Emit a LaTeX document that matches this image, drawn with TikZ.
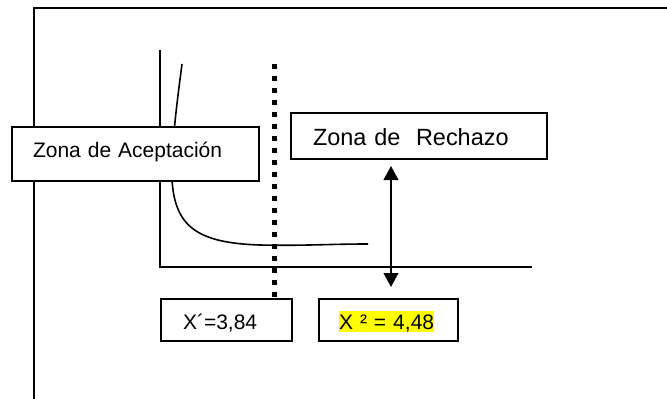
\documentclass[tikz,border=0pt]{standalone}
\usepackage{fontspec}
\setmainfont{Liberation Sans}
\usetikzlibrary{arrows.meta}
\definecolor{hilite}{RGB}{255,255,0}
\def\pxu{0.75pt}
\begin{document}
\begin{tikzpicture}[x=0.75pt,y=-0.75pt,
  framestroke/.style={line width=1.5pt,line cap=rect},
  axisstroke/.style={line width=1.3pt},
  curvestroke/.style={line width=1.2pt},
  critline/.style={line width=3.75pt,dash pattern=on 4.1pt off 4.9pt},
  zonebox/.style={draw,fill=white,line width=1.5pt,anchor=north west,
    inner ysep=0pt,align=left},
  bothtips/.style={{Triangle[width=11pt,length=10.5pt]}-{Triangle[width=11pt,length=10.5pt]},line width=1.5pt}]
  \useasboundingbox (0,0) rectangle (667,399);

  % outer frame (top and left edges)
  \draw[framestroke] (34,399) |- (667,8);

  % axes
  \draw[axisstroke] (160,50) |- (532,267);

  % density curve
  \draw[curvestroke] (182,64) .. controls (176,110) and (171,150) .. (172,180)
    .. controls (175,225) and (195,243) .. (260,245)
    .. controls (300,246) and (330,244) .. (368,244);

  % labelled boxes
  \node[zonebox,minimum width=247*\pxu,minimum height=54*\pxu,
    text width=205*\pxu,inner xsep=21*\pxu,text height=15*\pxu,text depth=7*\pxu,
    font=\fontsize{15.75pt}{18pt}\selectfont] (acep) at (11,126) {Zona de Aceptación};
  \node[zonebox,minimum width=256*\pxu,minimum height=46*\pxu,
    text width=212*\pxu,inner xsep=22*\pxu,text height=20*\pxu,text depth=0pt,
    font=\fontsize{17.6pt}{20pt}\selectfont] (rech) at (290,112) {Zona de\ \ Rechazo};
  \node[zonebox,minimum width=131*\pxu,minimum height=42*\pxu,
    text width=87*\pxu,inner xsep=22*\pxu,text height=18*\pxu,text depth=0pt,
    font=\fontsize{15.75pt}{18pt}\selectfont] (crit) at (160,298) {X´=3,84};
  \node[zonebox,minimum width=139*\pxu,minimum height=42*\pxu,
    text width=99*\pxu,inner xsep=20*\pxu,text height=18*\pxu,text depth=0pt,
    font=\fontsize{15.75pt}{18pt}\selectfont] (calc) at (318,298)
    {\setlength{\fboxsep}{0pt}\colorbox{hilite}{\rule[-2.25pt]{0pt}{15.75pt}X ² = 4,48}};

  % critical value line
  \coordinate (crittop) at (274,64);
  \draw[critline] (crittop) -- (crittop |- crit.north);

  % double arrow between the rejection label and the statistic
  \coordinate (arrtop) at (391,166);
  \coordinate (arrbot) at (391,287);
  \draw[bothtips] (arrtop) -- (arrbot);
\end{tikzpicture}
\end{document}
